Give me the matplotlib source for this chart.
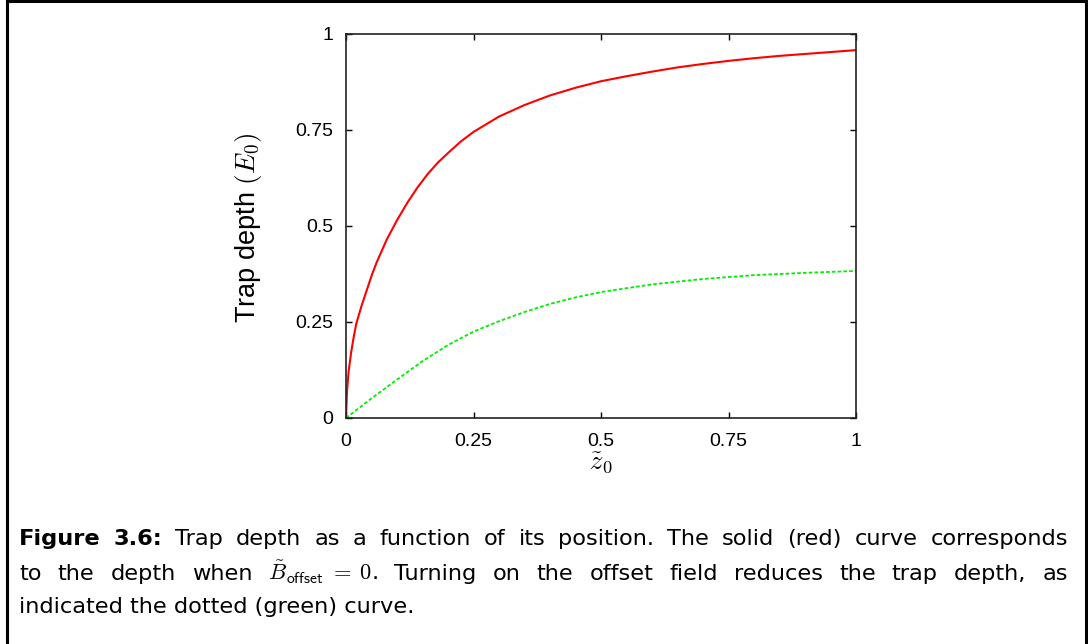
import matplotlib
matplotlib.use('Agg')
import matplotlib.pyplot as plt
from matplotlib.lines import Line2D

plt.rcParams['mathtext.fontset'] = 'cm'

# Data
z = [0, 0.002, 0.005, 0.01, 0.015, 0.02, 0.03, 0.04, 0.05, 0.06, 0.07, 0.08,
     0.09, 0.1, 0.12, 0.14, 0.16, 0.18, 0.2, 0.225, 0.25, 0.275, 0.3, 0.35, 0.4,
     0.45, 0.5, 0.55, 0.6, 0.65, 0.7, 0.75, 0.8, 0.85, 0.9, 0.95, 1.0]
red = [0, 0.07, 0.12, 0.17, 0.21, 0.245, 0.29, 0.33, 0.37, 0.405, 0.435, 0.465,
       0.49, 0.515, 0.56, 0.60, 0.635, 0.665, 0.69, 0.72, 0.745, 0.765, 0.785,
       0.815, 0.84, 0.86, 0.877, 0.89, 0.902, 0.913, 0.922, 0.93, 0.937, 0.943,
       0.948, 0.953, 0.958]
z_green = [0, 0.05, 0.1, 0.15, 0.2, 0.25, 0.3, 0.35, 0.4, 0.45, 0.5, 0.6, 0.7,
           0.8, 0.9, 1.0]
green = [0, 0.051, 0.1, 0.148, 0.19, 0.225, 0.252, 0.276, 0.297, 0.314, 0.328,
         0.348, 0.362, 0.372, 0.378, 0.383]
ticks = [0, 0.25, 0.5, 0.75, 1]
tick_labels = ['0', '0.25', '0.5', '0.75', '1']

W, H = 1088, 644
fig = plt.figure(figsize=(W / 100, H / 100), dpi=100)
ax = fig.add_axes([346 / W, 1 - 418 / H, 510 / W, 384 / H])
ax.plot(z, red, color='#ff0000', lw=1.5)
ax.plot(z_green, green, color='#00ee00', lw=1.3, linestyle=(0, (2, 1.2)))
ax.set_xlim(0, 1)
ax.set_ylim(0, 1)
ax.set_xticks(ticks)
ax.set_xticklabels(tick_labels, family='Liberation Sans', fontsize=14)
ax.set_yticks(ticks)
ax.set_yticklabels(tick_labels, family='Liberation Sans', fontsize=14)
ax.tick_params(axis='both', direction='in', length=4, width=1, top=True, right=True)
ax.tick_params(axis='x', pad=10.5)
ax.tick_params(axis='y', pad=9)
for s in ax.spines.values():
    s.set_linewidth(1.2)
    s.set_color('#222222')

fig.text(248 / W, 1 - 228 / H, 'Trap depth $(E_0)$', rotation=90, ha='center',
         va='center', family='Liberation Sans', fontsize=19.5)
fig.text(601 / W, 1 - 463 / H, r'$\tilde{z}_0$', ha='center', va='center', fontsize=19)

# Frame
lw = 2.2
fig.add_artist(Line2D([7 / W, 7 / W], [0, 1 - 1 / H], transform=fig.transFigure, color='black', lw=lw))
fig.add_artist(Line2D([7 / W, 1086 / W], [1 - 1 / H, 1 - 1 / H], transform=fig.transFigure, color='black', lw=lw))
fig.add_artist(Line2D([1086 / W, 1086 / W], [0, 1 - 1 / H], transform=fig.transFigure, color='black', lw=lw))

# Caption (justified)
cap_fs = 16.2
cap_family = 'DejaVu Sans'
left_px, right_px = 19, 1068
line1 = [('Figure', 'bold'), ('3.6:', 'bold'), ('Trap', 'normal'), ('depth', 'normal'),
         ('as', 'normal'), ('a', 'normal'), ('function', 'normal'), ('of', 'normal'),
         ('its', 'normal'), ('position.', 'normal'), ('The', 'normal'), ('solid', 'normal'),
         ('(red)', 'normal'), ('curve', 'normal'), ('corresponds', 'normal')]
line2 = [(w, 'normal') for w in ['to', 'the', 'depth', 'when',
                                 r'$\tilde{B}_{\mathsf{offset}}\;=\;0$.', 'Turning', 'on',
                                 'the', 'offset', 'field', 'reduces', 'the', 'trap',
                                 'depth,', 'as']]
line3 = 'indicated the dotted (green) curve.'

fig.canvas.draw()
renderer = fig.canvas.get_renderer()


def justify(words, baseline_px):
    texts = []
    widths = []
    for w, weight in words:
        t = fig.text(0, 1 - baseline_px / H, w, fontsize=cap_fs, family=cap_family,
                     weight=weight, ha='left', va='baseline')
        bb = t.get_window_extent(renderer)
        texts.append(t)
        widths.append(bb.width)
    gap = (right_px - left_px - sum(widths)) / (len(words) - 1)
    x = left_px
    for t, wd in zip(texts, widths):
        t.set_x(x / W)
        x += wd + gap


justify(line1, 545)
justify(line2, 580)
fig.text(left_px / W, 1 - 613 / H, line3, fontsize=cap_fs, family=cap_family,
         ha='left', va='baseline')

fig.savefig('out.png', dpi=100)
